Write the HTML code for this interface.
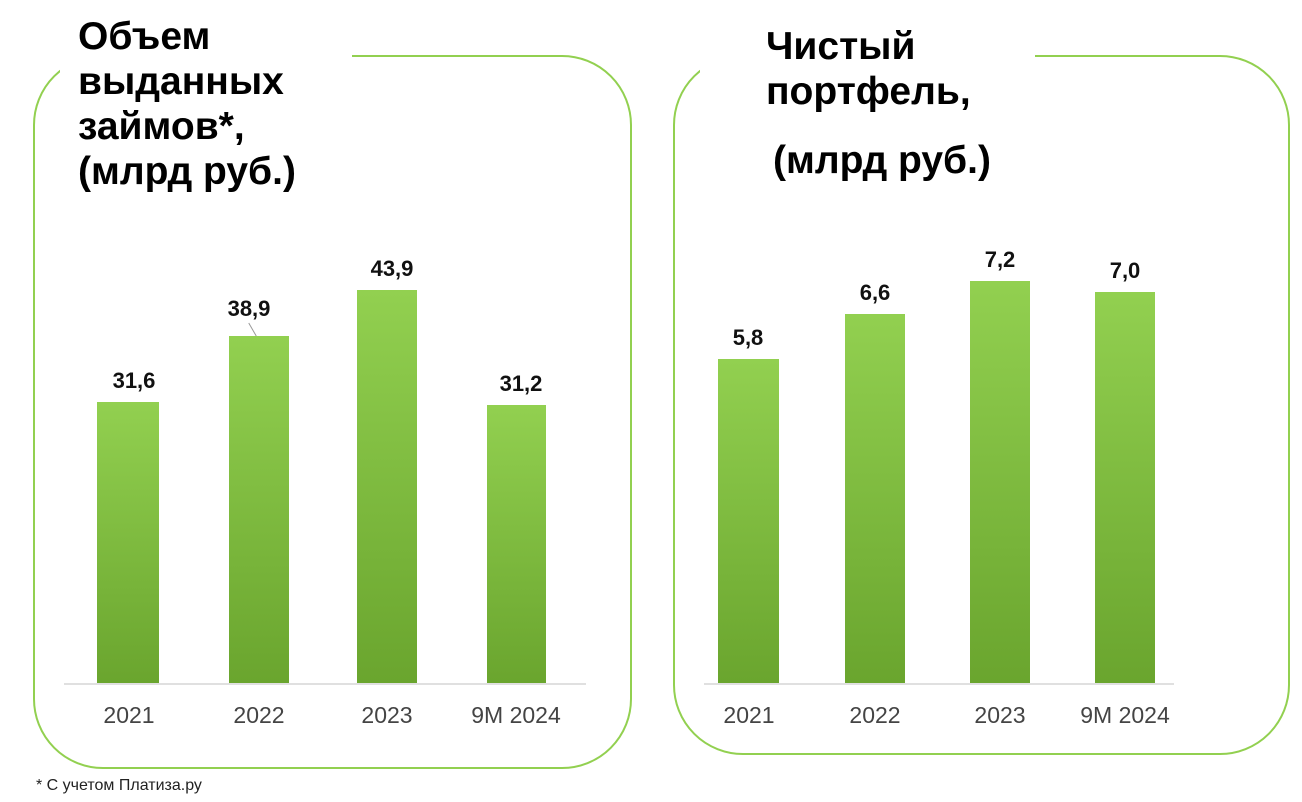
<!DOCTYPE html>
<html><head><meta charset="utf-8"><style>
body{margin:0;width:1302px;height:802px;background:#fff;position:relative;overflow:hidden;font-family:"Liberation Sans","Noto Sans CJK SC",sans-serif}
.box{position:absolute;border:2.5px solid #92d050;border-radius:70px;box-sizing:border-box}
.gap{position:absolute;background:#fff}
.t{position:absolute;font-weight:bold;font-size:39px;color:#000;line-height:45px;white-space:nowrap}
.bar{position:absolute;background:linear-gradient(#92d050,#6aa52e)}
.v{position:absolute;font-weight:bold;font-size:22px;width:80px;text-align:center;color:#111}
.x{position:absolute;font-size:23px;color:#444;width:140px;text-align:center;top:702px}
.base{position:absolute;height:2px;background:#e0e0e0;top:683px}
</style></head><body>
<div class="box" style="left:33px;top:55px;width:599px;height:714px"></div>
<div class="gap" style="left:60px;top:40px;width:292px;height:40px"></div>
<div class="box" style="left:673px;top:55px;width:617px;height:700px"></div>
<div class="gap" style="left:700px;top:40px;width:335px;height:40px"></div>
<div class="t" style="left:78px;top:14px">Объем<br>выданных<br>займов*,<br>(млрд руб.)</div>
<div class="t" style="left:766px;top:24px">Чистый<br>портфель,</div>
<div class="t" style="left:773px;top:138px">(млрд руб.)</div>
<div class="base" style="left:64px;width:522px"></div>
<div class="base" style="left:704px;width:470px"></div>
<div class="bar" style="left:97px;top:402px;width:62px;height:281px"></div>
<div class="bar" style="left:229px;top:336px;width:60px;height:347px"></div>
<div class="bar" style="left:357px;top:290px;width:60px;height:393px"></div>
<div class="bar" style="left:487px;top:405px;width:59px;height:278px"></div>
<div class="v" style="left:94px;top:368px">31,6</div>
<div class="v" style="left:209px;top:296px">38,9</div>
<div style="position:absolute;left:252px;top:322px;width:1px;height:15px;background:#999;transform:rotate(-30deg)"></div>
<div class="v" style="left:352px;top:256px">43,9</div>
<div class="v" style="left:481px;top:371px">31,2</div>
<div class="x" style="left:59px">2021</div>
<div class="x" style="left:189px">2022</div>
<div class="x" style="left:317px">2023</div>
<div class="x" style="left:446px">9M 2024</div>
<div class="bar" style="left:718px;top:359px;width:61px;height:324px"></div>
<div class="bar" style="left:845px;top:314px;width:60px;height:369px"></div>
<div class="bar" style="left:970px;top:281px;width:60px;height:402px"></div>
<div class="bar" style="left:1095px;top:292px;width:60px;height:391px"></div>
<div class="v" style="left:708px;top:325px">5,8</div>
<div class="v" style="left:835px;top:280px">6,6</div>
<div class="v" style="left:960px;top:247px">7,2</div>
<div class="v" style="left:1085px;top:258px">7,0</div>
<div class="x" style="left:679px">2021</div>
<div class="x" style="left:805px">2022</div>
<div class="x" style="left:930px">2023</div>
<div class="x" style="left:1055px">9M 2024</div>
<div style="position:absolute;left:36px;top:777px;font-size:16px;color:#222">* С учетом Платиза.ру</div>
</body></html>
